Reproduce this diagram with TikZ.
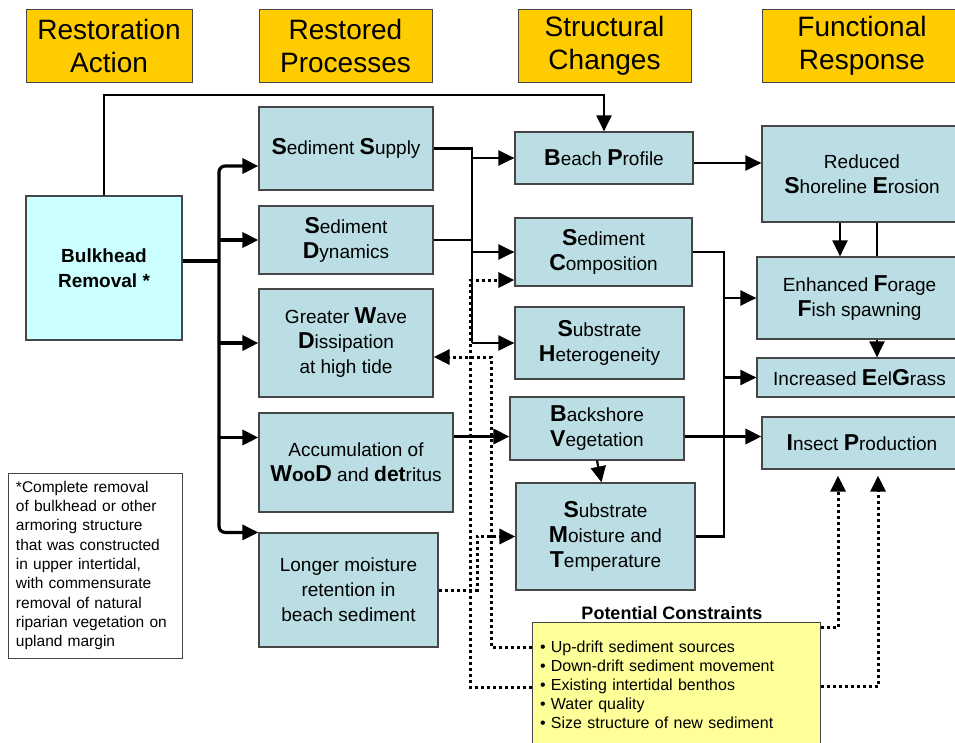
\documentclass[tikz,border=0pt]{standalone}
\usepackage{fontspec}
\setmainfont{Liberation Sans}
\usetikzlibrary{arrows.meta,calc}
\definecolor{boxblue}{RGB}{186,222,228}
\definecolor{bulkblue}{RGB}{204,255,255}
\definecolor{gold}{RGB}{255,204,0}
\definecolor{paleyellow}{RGB}{255,255,153}
\definecolor{edge}{RGB}{70,70,70}
\newcommand\BI[1]{{\fontsize{23}{25}\selectfont\bfseries #1}}
\begin{document}
\begin{tikzpicture}[x=1pt,y=-1pt,
  hdr/.style={draw=edge, fill=gold, line width=1pt, align=center, font=\fontsize{28}{33}\selectfont, inner sep=0pt},
  box/.style={draw=edge, fill=boxblue, line width=1.2pt, align=center, font=\fontsize{19}{25}\selectfont, inner sep=0pt},
  ln/.style={line width=2.2pt},
  thk/.style={line width=3.2pt},
  dotl/.style={line width=3pt, dash pattern=on 3pt off 3pt},
  arr/.style={-{Triangle[length=16pt,width=15pt]}},
]
\useasboundingbox (0,0) rectangle (955,742);
\fill[white] (0,0) rectangle (955,742);

% headers
\node[hdr, minimum width=166pt, minimum height=73pt] (h1) at (109,45.5) {Restoration\\Action};
\node[hdr, minimum width=173pt, minimum height=73pt] (h2) at (345.5,45.5) {Restored\\Processes};
\node[hdr, minimum width=173pt, minimum height=73pt] (h3) at (604.5,45.5) {Structural\\Changes};
\node[hdr, minimum width=200pt, minimum height=73pt] (h4) at (862,45.5) {Functional\\Response};

% boxes
\node[box, fill=bulkblue, minimum width=156pt, minimum height=144pt, font=\fontsize{19}{25}\selectfont\bfseries] (bulk) at (104,268) {Bulkhead\\Removal *};
\node[box, minimum width=174pt, minimum height=83pt] (ss) at (346,148.5) {\BI{S}ediment \BI{S}upply};
\node[box, minimum width=174pt, minimum height=68pt] (sd) at (346,240) {\BI{S}ediment\\\BI{D}ynamics};
\node[box, minimum width=174pt, minimum height=108pt] (wave) at (346,343) {Greater \BI{W}ave\\\BI{D}issipation\\at high tide};
\node[box, minimum width=194pt, minimum height=99pt] (wood) at (356,462.5) {Accumulation of\\\BI{W}{\bfseries oo}\BI{D} and {\fontsize{21}{25}\selectfont\bfseries det}ritus};
\node[box, minimum width=179pt, minimum height=114pt] (moist) at (348.5,590) {Longer moisture\\retention in\\beach sediment};

\node[box, minimum width=178pt, minimum height=52pt] (bp) at (604,158) {\BI{B}each \BI{P}rofile};
\node[box, minimum width=177pt, minimum height=68pt] (sc) at (603.5,252) {\BI{S}ediment\\\BI{C}omposition};
\node[box, minimum width=169pt, minimum height=72pt] (sh) at (599.5,343) {\BI{S}ubstrate\\\BI{H}eterogeneity};
\node[box, minimum width=174pt, minimum height=63pt] (bv) at (597,428.5) {\BI{B}ackshore\\\BI{V}egetation};
\node[box, minimum width=179pt, minimum height=107pt] (smt) at (605.5,536.5) {\BI{S}ubstrate\\\BI{M}oisture and\\\BI{T}emperature};

\node[box, minimum width=200pt, minimum height=96pt] (rse) at (862,174) {Reduced\\\BI{S}horeline \BI{E}rosion};
\node[box, minimum width=205pt, minimum height=82pt] (ff) at (859.5,298) {Enhanced \BI{F}orage\\\BI{F}ish spawning};
\node[box, minimum width=205pt, minimum height=39pt] (eg) at (859.5,377.5) {Increased \BI{E}el\BI{G}rass};
\node[box, minimum width=200pt, minimum height=52pt] (ip) at (862,443) {\BI{I}nsect \BI{P}roduction};

% footnote
\node[draw=edge, fill=white, line width=1pt, text width=158pt, inner xsep=8pt, inner ysep=0pt, minimum height=185pt, align=left, font=\fontsize{15.5}{19.3}\selectfont] (note) at (95,565.5) {*Complete removal\\of bulkhead or other\\armoring structure\\that was constructed\\in upper intertidal,\\with commensurate\\removal of natural\\riparian vegetation on\\upland margin};

% constraints
\node[draw=edge, fill=paleyellow, line width=1pt, text width=272pt, inner xsep=8pt, inner ysep=0pt, minimum height=126pt, align=left, font=\fontsize{16}{19}\selectfont] (pc) at (676,685) {\textbullet{} Up-drift sediment sources\\\textbullet{} Down-drift sediment movement\\\textbullet{} Existing intertidal benthos\\\textbullet{} Water quality\\\textbullet{} Size structure of new sediment};
\node[font=\fontsize{18}{20}\selectfont\bfseries] (pct) at (672,613) {Potential Constraints};

% coordinates
\coordinate (topy) at (0,95);
\coordinate (jb) at (219,261);
\coordinate (j2) at (472,147);
\coordinate (j3) at (724,0);
\coordinate (xa) at (840,0);
\coordinate (xb) at (877,0);
\coordinate (xd1) at (470,0);
\coordinate (xd2) at (491,0);
\coordinate (xd3) at (477,0);
\coordinate (ya) at (0,280);
\coordinate (yb) at (0,357);
\coordinate (xe1) at (838,0);
\coordinate (xe2) at (878,0);

% top loop
\draw[ln, arr] (bulk.north) |- (bp.north |- topy) -- (bp.north);

% bulkhead trunk
\draw[thk] (bulk.east |- jb) -- (jb);
\draw[thk, rounded corners=6pt, arr] (jb) |- ([yshift=-17.5pt]ss.west);
\draw[thk, arr] (sd.west -| jb) -- (sd.west);
\draw[thk, arr] (wave.west -| jb) -- (wave.west);
\draw[thk, arr] ([yshift=25pt]wood.west -| jb) -- ([yshift=25pt]wood.west);
\draw[thk, rounded corners=6pt, arr] (jb) |- (moist.north west);

% second trunk
\draw[ln] (ss.east) -| (sh.west -| j2);
\draw[ln] (sd.east) -- (sd.east -| j2);
\draw[ln, arr] (bp.west -| j2) -- (bp.west);
\draw[ln, arr] (sc.west -| j2) -- (sc.west);
\draw[ln, arr] (sh.west -| j2) -- (sh.west);

% wood -> backshore, backshore -> insect
\draw[thk, arr] ([yshift=-8pt]bv.west -| wood.east) -- ([yshift=-8pt]bv.west);
\draw[thk, arr] ([yshift=-8pt]bv.east) -- ([yshift=-8pt]bv.east -| ip.west);
\draw[ln, arr] (bv.south) -- ([xshift=-4pt]smt.north);

% beach profile -> erosion
\draw[ln, arr] ([yshift=-5pt]bp.east) -- ([yshift=-5pt]bp.east -| rse.west);

% third trunk
\draw[ln] (sc.east) -| (j3 |- smt.east) -- (smt.east);
\draw[ln, arr] (ff.west -| j3) -- (ff.west);
\draw[ln, arr] (eg.west -| j3) -- (eg.west);

% right column
\draw[ln, arr] (rse.south -| xa) -- (ff.north -| xa);
\draw[ln] (rse.south -| xb) -- (ff.north -| xb);
\draw[ln, arr] (ff.south -| xb) -- (eg.north -| xb);

% dotted constraints
\draw[dotl, arr] ([yshift=-2pt]pc.west) -| (xd1 |- ya) -- (sc.west |- ya);
\draw[dotl, arr] ([yshift=38pt]pc.west) -| (xd2 |- yb) -- (wave.east |- yb);
\draw[dotl, arr] (moist.east) -| (xd3 |- smt.west) -- (smt.west);
\draw[dotl, arr, shorten >=6pt] ([yshift=58pt]pc.east) -| (ip.south -| xe1);
\draw[dotl, arr, shorten >=6pt] ([yshift=-1pt]pc.east) -| (ip.south -| xe2);
\end{tikzpicture}
\end{document}
